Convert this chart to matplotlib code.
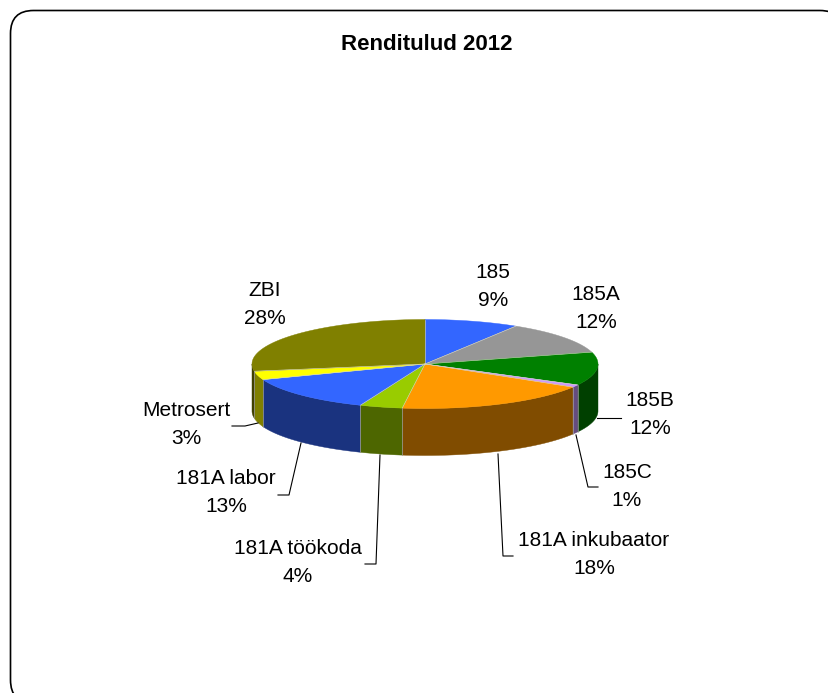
import numpy as np
import matplotlib.pyplot as plt
from matplotlib.patches import FancyBboxPatch, Polygon

plt.rcParams['font.family'] = ['Liberation Sans', 'DejaVu Sans']

title = 'Renditulud 2012'
categories = ['185', '185A', '185B', '185C', '181A inkubaator', '181A töökoda',
              '181A labor', 'Metrosert', 'ZBI']
values = [8.8, 11.9, 12.1, 0.9, 18.4, 4.0, 13.2, 3.1, 27.6]
top_colors = ['#3366FF', '#969696', '#008000', '#CC99FF', '#FF9900', '#99CC00',
              '#3366FF', '#FFFF00', '#808000']
side_colors = ['#1A337F', '#4B4B4B', '#004000', '#664C80', '#804C00', '#4D6600',
               '#1A337F', '#808000', '#404000']
label_pos = [(493, 286), (596, 308), (650, 415), (627, 486), (594, 554),
             (298, 563), (226, 492), (186, 425), (265, 304)]
leaders = [None, None,
           [(597, 418), (621, 418)],
           [(576, 435), (588, 487), (598, 487)],
           [(498, 454), (503, 556), (513, 556)],
           [(380, 455), (376, 564), (365, 564)],
           [(301, 443), (289, 495), (278, 495)],
           [(258, 423), (245, 426), (232, 426)],
           None]

cx, cy = 425, 364
rx, ry = 173, 44.5
depth = 47


def arc(a0, a1):
    # angles in degrees, clockwise from the top of the ellipse
    t = np.radians(np.linspace(a0, a1, max(int(abs(a1 - a0) * 2), 2)))
    return np.column_stack([cx + rx * np.sin(t), cy - ry * np.cos(t)])


fig = plt.figure(figsize=(8.29, 6.93), dpi=100)
ax = fig.add_axes([0, 0, 1, 1])
ax.set_xlim(0, 829)
ax.set_ylim(693, 0)
ax.axis('off')

ax.add_patch(FancyBboxPatch((10.5, 10.5), 832.5, 692.5, boxstyle='round,pad=0,rounding_size=23',
                            fc='white', ec='black', lw=1.2))

edges = np.concatenate([[0], np.cumsum(values)]) * 360 / sum(values)

# sides first, only the front half of the rim shows
for a0, a1, c in zip(edges[:-1], edges[1:], side_colors):
    s0, s1 = max(a0, 90), min(a1, 270)
    if s1 <= s0:
        continue
    rim = arc(s0, s1)
    low = rim[::-1] + [0, depth]
    ax.add_patch(Polygon(np.vstack([rim, low]), closed=True, fc=c, ec=c, lw=0.3, zorder=2))

for a0, a1, c in zip(edges[:-1], edges[1:], top_colors):
    pts = np.vstack([[cx, cy], arc(a0, a1)])
    ax.add_patch(Polygon(pts, closed=True, fc=c, ec=c, lw=0.3, zorder=3))

# faint seams between the slices
for a in edges[:-1]:
    p = arc(a, a)[0]
    ax.plot([cx, p[0]], [cy, p[1]], color='#D8D8C8', lw=0.4, zorder=4)
    if 90 < a < 270:
        ax.plot([p[0], p[0]], [p[1], p[1] + depth], color='#A0A0A0', lw=0.5, zorder=4)

for name, v, (x, y), lead in zip(categories, values, label_pos, leaders):
    ax.text(x, y, f'{name}\n{v:.0f}%', ha='center', va='center', fontsize=15, linespacing=1.6,
            color='black', zorder=5)
    if lead:
        ax.plot(*zip(*lead), color='black', lw=0.8, zorder=4)

ax.text(427, 45, title, ha='center', va='center', fontsize=16, fontweight='bold')

fig.savefig('out.png', dpi=100)
